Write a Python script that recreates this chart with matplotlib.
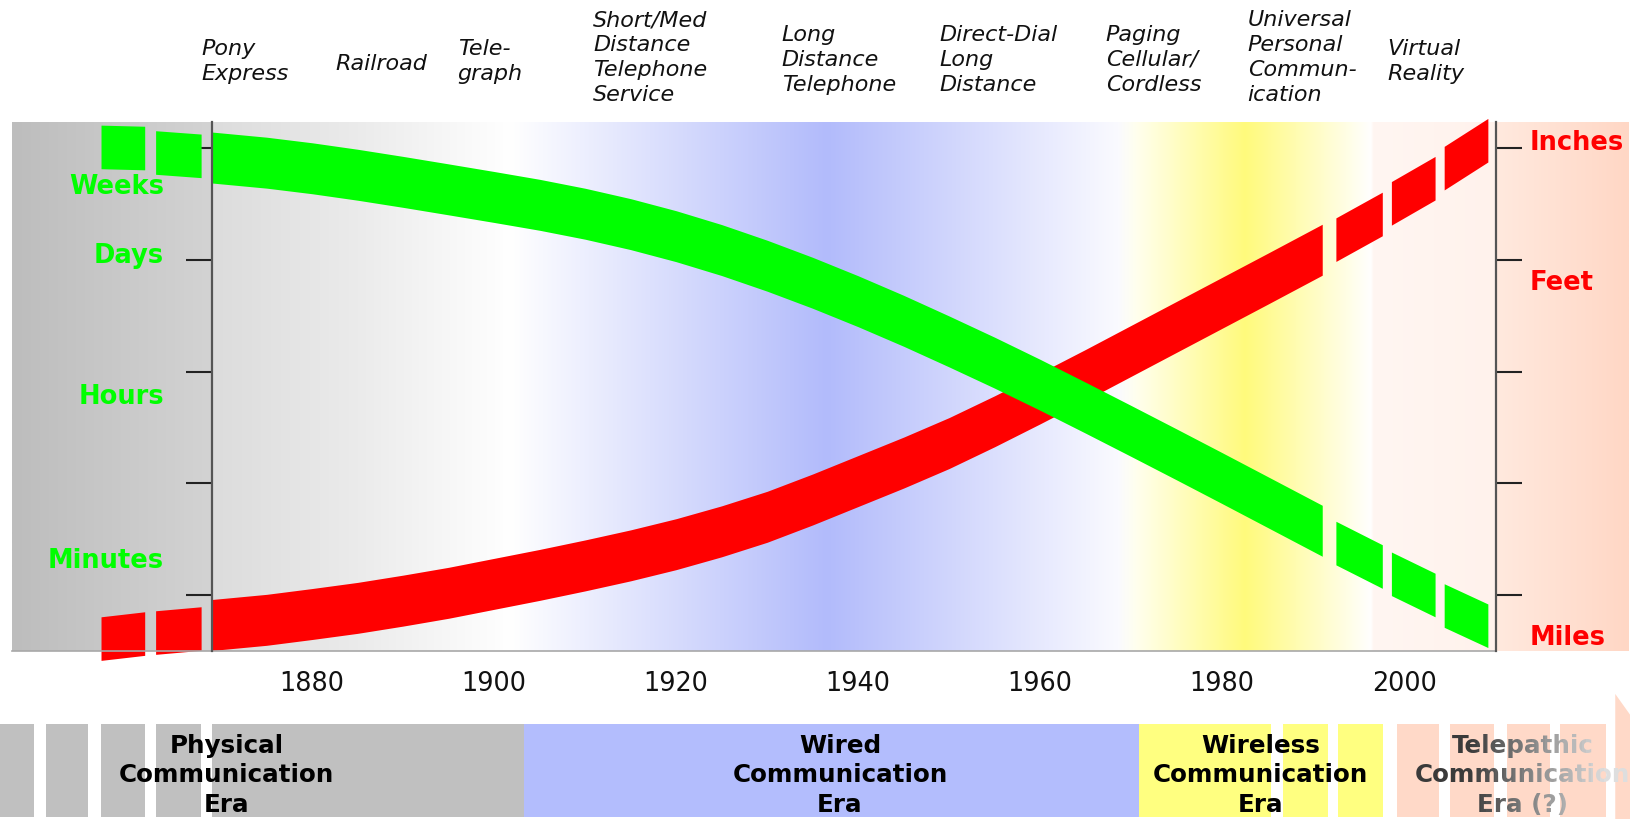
import numpy as np
import matplotlib
matplotlib.use("Agg")
import matplotlib.pyplot as plt
from matplotlib.colors import to_rgb
from matplotlib.transforms import blended_transform_factory, Bbox, TransformedBbox
from matplotlib.patches import Polygon

# ---- data ----
years = np.array([1856.8, 1861.6, 1862.8, 1867.8,
                  1869, 1875, 1880, 1885, 1890, 1895, 1900, 1905, 1910, 1915, 1920,
                  1925, 1930, 1935, 1940, 1945, 1950, 1955, 1960, 1965, 1970,
                  1975, 1980, 1985, 1991,
                  1992.5, 1997.6, 1998.6, 2003.4, 2004.4, 2009.2])
# green band, left scale (4 = weeks ... 0 = minutes)
delay = np.array([4.01, 4.00, 3.96, 3.93,
                  3.915, 3.869, 3.819, 3.761, 3.697, 3.630, 3.562, 3.492, 3.412, 3.319, 3.211,
                  3.087, 2.947, 2.794, 2.629, 2.454, 2.269, 2.079, 1.881, 1.676, 1.468,
                  1.258, 1.046, 0.832, 0.575,
                  0.465, 0.255, 0.19, 0.0, -0.094, -0.275])
# red band, right scale (4 = inches ... 0 = miles)
reach = np.array([-0.39, -0.345, -0.336, -0.30,
                  -0.268, -0.222, -0.17, -0.115, -0.05, 0.02, 0.10, 0.18, 0.265, 0.355, 0.455,
                  0.57, 0.70, 0.855, 1.02, 1.185, 1.36, 1.555, 1.76, 1.97, 2.185,
                  2.40, 2.615, 2.83, 3.09,
                  3.18, 3.41, 3.505, 3.73, 3.82, 4.07])
band_pieces = [(1856.8, 1861.6), (1862.8, 1867.8), (1869, 1991),
               (1992.5, 1997.6), (1998.6, 2003.4), (2004.4, 2009.2)]

year_ticks = [1880, 1900, 1920, 1940, 1960, 1980, 2000]

left_names = ["Weeks", "Days", "Hours", "Minutes"]
left_pos = [3.66, 3.04, 1.78, 0.31]
right_names = ["Inches", "Feet", "Miles"]
right_pos = [4.05, 2.80, -0.375]

tech_names = [["Pony", "Express"], ["Railroad"], ["Tele-", "graph"],
              ["Short/Med", "Distance", "Telephone", "Service"],
              ["Long", "Distance", "Telephone"], ["Direct-Dial", "Long", "Distance"],
              ["Paging", "Cellular/", "Cordless"],
              ["Universal", "Personal", "Commun-", "ication"], ["Virtual", "Reality"]]
tech_years = [1867.8, 1882.6, 1896.0, 1910.9, 1931.6, 1948.9, 1967.2, 1982.8, 1998.2]

gray_spans = [(1845.7, 1849.4), (1850.7, 1855.4), (1856.8, 1861.6), (1862.8, 1867.8), (1869, 1903.3)]
blue_spans = [(1903.3, 1970.9)]
yellow_spans = [(1970.9, 1985.4), (1986.7, 1991.6), (1992.7, 1997.7)]
peach_spans = [(1999.2, 2003.8), (2005.0, 2009.9), (2011.3, 2016.0), (2017.1, 2022.2)]

era_names = [["Physical", "Communication", "Era"], ["Wired", "Communication", "Era"],
             ["Wireless", "Communication", "Era"], ["Telepathic", "Communication", "Era (?)"]]
era_centers = [1870.6, 1938.0, 1984.2, 2013.0]

# background colour stops (year, colour)
bg_years = [1847.0, 1868.8, 1869.0, 1885, 1901.7, 1936.5, 1968.5, 1970.5, 1982.5, 1996.4,
            1996.5, 2010.0, 2010.2, 2024.6]
bg_colors = ["#bdbdbd", "#d3d3d3", "#dcdcdc", "#ebebeb", "#ffffff", "#b2bbfb", "#fafaff",
             "#ffffee", "#fffa7c", "#ffffff", "#fff6f2", "#fff2ec", "#ffe9de", "#ffd7c5"]

XLIM = (1845.70, 2024.93)
YLIM = (-0.501, 4.233)

fig = plt.figure(figsize=(16.31, 8.20), dpi=100)

# ---- main panel ----
ax = fig.add_axes([0, 168 / 820, 1, 529 / 820])
ax.patch.set_visible(False)

cols = np.linspace(bg_years[0], bg_years[-1], 1200)
rgb = np.array([to_rgb(c) for c in bg_colors])
img = np.stack([np.interp(cols, bg_years, rgb[:, k]) for k in range(3)], axis=-1)[None, :, :]
ax.imshow(img, extent=[bg_years[0], bg_years[-1], YLIM[0], YLIM[1]], aspect='auto',
          interpolation='bilinear', zorder=0)

for series, color, z in [(reach, '#ff0000', 2), (delay, '#00ff00', 3)]:
    for a, b in band_pieces:
        m = (years >= a - 1e-6) & (years <= b + 1e-6)
        half = 0.228 if b - a > 20 else 0.195
        ax.fill_between(years[m], series[m] - half, series[m] + half, color=color,
                        lw=0, zorder=z, clip_on=False)

ax.set_xlim(*XLIM)
ax.set_ylim(*YLIM)

ax.spines['top'].set_visible(False)
ax.spines['left'].set_position(('data', 1869))
ax.spines['right'].set_position(('data', 2010.1))
for s in ['left', 'right']:
    ax.spines[s].set_color('#555555')
    ax.spines[s].set_linewidth(1.6)
    ax.spines[s].set_zorder(4)
ax.spines['bottom'].set_bounds(1847.0, 2010.1)
ax.spines['bottom'].set_color('#a8a8a8')
ax.spines['bottom'].set_linewidth(1.2)

ax.set_yticks([0, 1, 2, 3, 4])
ax.yaxis.set_ticks_position('both')
ax.tick_params(axis='y', direction='out', length=18.5, width=1.5, color='#222222',
               labelleft=False, labelright=False)
ax.set_xticks(year_ticks)
ax.set_xticklabels([str(y) for y in year_ticks])
ax.tick_params(axis='x', length=0, pad=14, labelsize=18.4, labelcolor='#111111')

for name, v in zip(left_names, left_pos):
    ax.text(1863.7, v, name, ha='right', va='center', color='#00ff00',
            fontsize=18.5, fontweight='bold', zorder=5)
for name, v in zip(right_names, right_pos):
    ax.text(2013.8, v, name, ha='left', va='center', color='#ff0000',
            fontsize=18.5, fontweight='bold', zorder=5)

# technology labels above the panel
trans = blended_transform_factory(ax.transData, fig.transFigure)
for lines, yr in zip(tech_names, tech_years):
    n = len(lines)
    for i, line in enumerate(lines):
        ypx = 20 + (4 - n) * 14.7 + 25 * i
        ax.text(yr, 1 - ypx / 820, line, transform=trans, ha='left', va='center',
                fontsize=16, fontstyle='italic', color='#111111')

# ---- era band at the bottom ----
ax2 = fig.add_axes([0, 0, 1, 130 / 820])
ax2.set_xlim(*XLIM)
ax2.set_ylim(-0.0215, 1.376)
ax2.set_axis_off()

for spans, color in [(gray_spans, '#c0c0c0'), (blue_spans, '#b3bdfd'),
                     (yellow_spans, '#ffff80'), (peach_spans, '#ffd9c8')]:
    starts = [a for a, b in spans]
    widths = [b - a for a, b in spans]
    ax2.bar(starts, [1] * len(spans), width=widths, bottom=0, align='edge',
            color=color, lw=0, zorder=1)
ax2.add_patch(Polygon([(2023.2, 1.323), (2023.2, -0.323), (2029.2, 0.5)],
                      closed=True, color='#ffd9c8', lw=0, clip_on=False, zorder=1))

line_y = [0.774, 0.457, 0.140]
dark = np.array(to_rgb('#3a3a3a'))
light = np.array(to_rgb('#dedede'))
for k, (lines, xc) in enumerate(zip(era_names, era_centers)):
    for line, y in zip(lines, line_y):
        if k < 3:
            ax2.text(xc, y, line, ha='center', va='center', fontsize=17.7,
                     fontweight='bold', color='black', zorder=3)
        else:
            # text fades out towards the right
            edges = np.linspace(1995, 2025, 61)
            for a, b in zip(edges[:-1], edges[1:]):
                f = np.clip((0.5 * (a + b) - 2007.2) / (2022.1 - 2007.2), 0, 1)
                t = ax2.text(xc, y, line, ha='center', va='center', fontsize=17.7,
                             fontweight='bold', color=(1 - f) * dark + f * light,
                             zorder=3, clip_on=True)
                t.set_clip_box(TransformedBbox(Bbox([[a, -1], [b, 2]]), ax2.transData))

fig.savefig('out.png', dpi=100)
